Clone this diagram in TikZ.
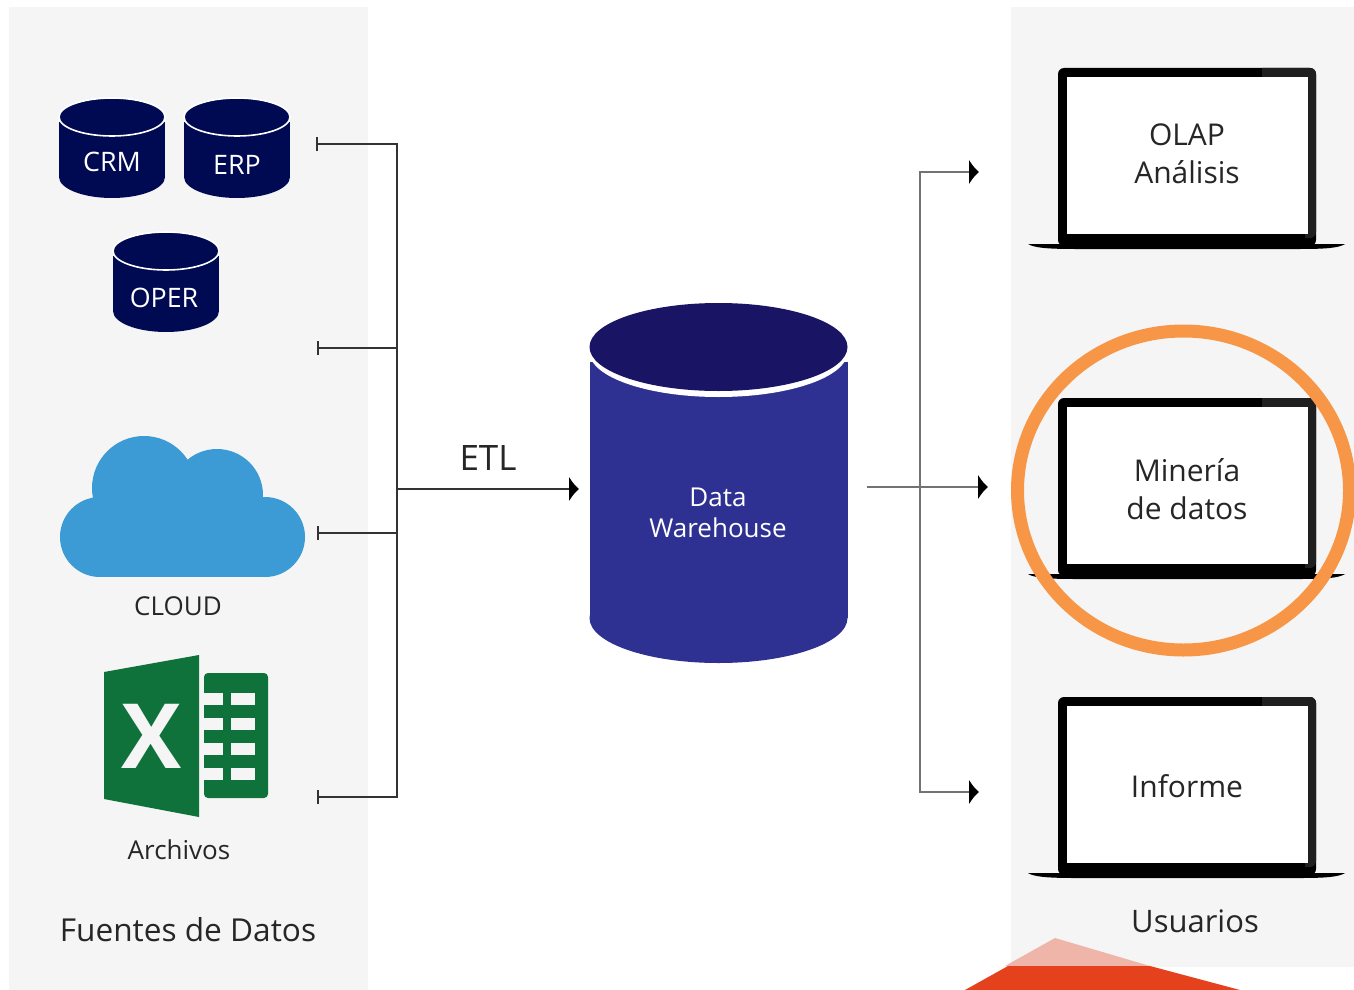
\documentclass[tikz,border=0pt]{standalone}
\usepackage{fontspec}
\setmainfont{Open Sans}
\usetikzlibrary{arrows.meta}
\definecolor{panelgray}{HTML}{F5F5F5}
\definecolor{dbnavy}{HTML}{000A52}
\definecolor{dwtop}{HTML}{1A1464}
\definecolor{dwblue}{HTML}{2E3192}
\definecolor{cloudblue}{HTML}{3C9AD5}
\definecolor{xlgreen}{HTML}{0E723A}
\definecolor{ringorange}{HTML}{F79646}
\definecolor{redlight}{HTML}{EFB5A8}
\definecolor{reddark}{HTML}{E5411D}
\definecolor{textdark}{HTML}{262626}
\tikzset{
  dblabel/.style={text=white,font=\fontsize{13.4}{15}\selectfont,inner sep=0pt},
  lbl/.style={text=textdark,font=\fontsize{13}{16}\selectfont,inner sep=0pt,align=center},
  screenlbl/.style={text=textdark,font=\fontsize{15}{19}\selectfont,inner sep=0pt,align=center},
  srcline/.style={draw=black!80,line width=1.1pt},
  userline/.style={draw=black!55,line width=1.3pt},
  tickstart/.style={{Bar[width=7pt,line width=1pt]}-},
  headend/.style={-{Latex[length=5pt,width=13pt,black]}},
}
\begin{document}
\begin{tikzpicture}[x=0.5pt,y=-0.5pt]
\useasboundingbox (0,0) rectangle (1354,990);
\fill[white] (0,0) rectangle (1354,990);
% panels
\fill[panelgray] (9,7) rectangle (368,990);
\fill[panelgray] (1011,7) rectangle (1354,967);
% red shape at the bottom
\fill[redlight] (1055,938) -- (1005,966) -- (1150,966) -- cycle;
\fill[reddark] (965,990) -- (1008,966) -- (1150,966) -- (1240,990) -- cycle;
% small databases
\foreach \cx/\cy/\nm/\txt/\tx/\ty in {112/117/crm/CRM/112/162,237/117/erp/ERP/237/165,166/251/oper/OPER/164/298}{
  \fill[dbnavy] (\cx,\cy+60) ellipse [x radius=53,y radius=21];
  \fill[dbnavy] (\cx-53,\cy+5) rectangle (\cx+53,\cy+60);
  \filldraw[fill=dbnavy,draw=white,line width=0.8pt] (\cx,\cy) ellipse [x radius=53,y radius=19];
  \node[dblabel] (\nm) at (\tx,\ty) {\txt};
}
% cloud
\fill[cloudblue] (100,537) circle [radius=40];
\fill[cloudblue] (144,488) circle [radius=52];
\fill[cloudblue] (217,495) circle [radius=46];
\fill[cloudblue] (265,537) circle [radius=40];
\fill[cloudblue] (100,500) rectangle (265,577);
\node[lbl] (cloud) at (178,606) {CLOUD};
% spreadsheet
\fill[xlgreen] (104,672) -- (199,655) -- (199,817) -- (104,799) -- cycle;
\fill[xlgreen,rounded corners=2pt] (204,673) rectangle (268,798);
\foreach \ry in {693,718,743,768}{
  \fill[panelgray] (204,\ry) rectangle (223,\ry+12);
  \fill[panelgray] (231,\ry) rectangle (255,\ry+12);
}
\node[text=panelgray,font=\fontsize{45}{45}\bfseries\selectfont,inner sep=0pt] (xl) at (152,736) {X};
\node[lbl] (archivos) at (179,850) {Archivos};
\node[text=textdark,font=\fontsize{15.8}{19}\selectfont,inner sep=0pt] (fuentes) at (188,930) {Fuentes de Datos};
% data warehouse
\fill[dwblue] (718.5,618) ellipse [x radius=129,y radius=45];
\fill[dwblue] (589.5,362) rectangle (847.5,618);
\fill[white] (718.5,352) ellipse [x radius=129,y radius=45];
\fill[dwtop] (718.5,347) ellipse [x radius=129,y radius=44];
\node[dblabel,align=center,font=\fontsize{13}{15.5}\selectfont] (dw) at (718,513) {Data\\Warehouse};
% laptops
\foreach \ly/\nm/\ty/\txt in {68/olap/154/OLAP\\Análisis,398/mineria/489/Minería\\de datos,697/informe/786/Informe}{
  \fill[black] (1028,\ly+176) .. controls (1034,\ly+180) and (1050,\ly+181) .. (1075,\ly+181) -- (1300,\ly+181) .. controls (1325,\ly+181) and (1339,\ly+180) .. (1345,\ly+176) -- cycle;
  \fill[black,rounded corners=3pt] (1058,\ly+178) -- (1058,\ly) -- (1316,\ly) -- (1316,\ly+178) -- cycle;
  \fill[black!88] (1262,\ly) [rounded corners=3pt] -- (1316,\ly) -- (1316,\ly+170) [sharp corners] -- (1305,\ly+170) -- (1305,\ly+9) -- (1262,\ly+9) -- cycle;
  \fill[white] (1067,\ly+9) rectangle (1308,\ly+166);
  \node[screenlbl] (\nm) at (1187,\ty) {\txt};
}
\node[text=textdark,font=\fontsize{15.5}{19}\selectfont,inner sep=0pt] (usuarios) at (1195,921) {Usuarios};
% highlight ring
\draw[ringorange,line width=6.5pt] (1183.5,490.5) ellipse [x radius=166,y radius=159.5];
% connectors
\coordinate (crmend) at (316,144);
\coordinate (operend) at (317,348);
\coordinate (cloudend) at (317,533);
\coordinate (xlend) at (317,797);
\coordinate (bustop) at (397,144);
\coordinate (busoper) at (397,348);
\coordinate (buscloud) at (397,533);
\coordinate (busxl) at (397,797);
\coordinate (busetl) at (397,489);
\coordinate (etlend) at (579,489);
\coordinate (dwout) at (867,487);
\coordinate (olapend) at (979,172);
\coordinate (minend) at (988,487);
\coordinate (infend) at (979,792);
\coordinate (outtop) at (920,172);
\coordinate (outbot) at (920,792);
\draw[srcline,tickstart] (crmend) -- (bustop);
\draw[srcline,tickstart] (operend) -- (busoper);
\draw[srcline,tickstart] (cloudend) -- (buscloud);
\draw[srcline,tickstart] (xlend) -- (busxl);
\draw[srcline,line cap=rect] (bustop) -- (busxl);
\draw[srcline,headend] (busetl) -- (etlend);
\node[text=textdark,font=\fontsize{17.5}{21}\selectfont,inner sep=0pt] (etl) at (488,458) {ETL};
\draw[userline,tickstart,headend] (dwout) -- (minend);
\draw[userline,line cap=rect] (outtop) -- (outbot);
\draw[userline,headend] (outtop) -- (olapend);
\draw[userline,headend] (outbot) -- (infend);
\end{tikzpicture}
\end{document}
